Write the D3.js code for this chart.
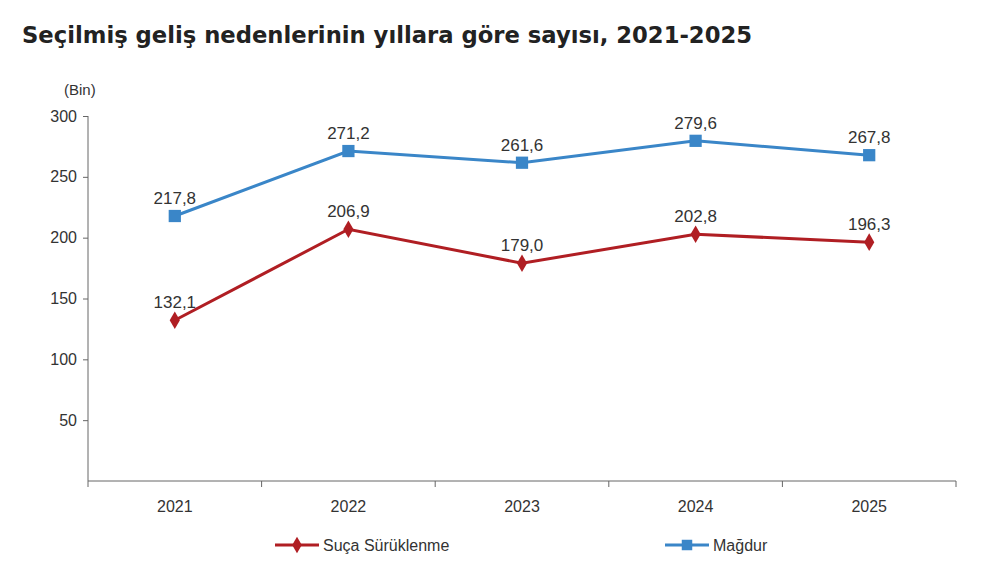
<!DOCTYPE html>
<html>
<head>
<meta charset="utf-8">
<script src="https://d3js.org/d3.v7.min.js"></script>
<style>
  body { margin: 0; background: #fff; font-family: "Liberation Sans", Arial, sans-serif; }
</style>
</head>
<body>
<svg id="chart" width="1000" height="568"></svg>
<script>
var years = ["2021", "2022", "2023", "2024", "2025"];
var sucaValues = [132.1, 206.9, 179.0, 202.8, 196.3];
var magdurValues = [217.8, 271.2, 261.6, 279.6, 267.8];
var yTicks = [50, 100, 150, 200, 250, 300];

var svg = d3.select("#chart");
var fmt = function (v) { return v.toFixed(1).replace(".", ","); };

var x = d3.scaleBand().domain(years).range([88, 956]);
var y = d3.scaleLinear().domain([0, 300]).range([481, 116]);

svg.append("text").attr("x", 22).attr("y", 43)
  .attr("font-size", 23).attr("font-weight", "bold").attr("fill", "#222")
  .attr("font-family", "'DejaVu Sans', sans-serif")
  .attr("textLength", 730).attr("lengthAdjust", "spacingAndGlyphs")
  .text("Seçilmiş geliş nedenlerinin yıllara göre sayısı, 2021-2025");

svg.append("text").attr("x", 64).attr("y", 95)
  .attr("font-size", 15).attr("fill", "#333").text("(Bin)");

// y axis
var yAxis = svg.append("g").attr("transform", "translate(88,0)")
  .call(d3.axisLeft(y).tickValues(yTicks).tickSize(5).tickFormat(d3.format("d")));
yAxis.selectAll("text").attr("font-size", 16).attr("fill", "#333").attr("dx", -3);
yAxis.select(".domain").attr("d", "M0," + y(0) + "V" + y(300)).attr("stroke", "#666");
yAxis.selectAll("line").attr("stroke", "#666");

// x axis
var xg = svg.append("g").attr("transform", "translate(0," + y(0) + ")");
xg.append("line").attr("x1", 88).attr("x2", 956).attr("stroke", "#666");
xg.selectAll("line.tk").data(years.concat(["end"])).join("line")
  .attr("class", "tk")
  .attr("x1", function (d, i) { return 88 + i * x.step(); })
  .attr("x2", function (d, i) { return 88 + i * x.step(); })
  .attr("y1", 0).attr("y2", 6).attr("stroke", "#666");
xg.selectAll("text").data(years).join("text")
  .attr("x", function (d) { return x(d) + x.bandwidth() / 2; })
  .attr("y", 31).attr("text-anchor", "middle")
  .attr("font-size", 16).attr("fill", "#333").text(function (d) { return d; });

var cx = function (d, i) { return x(years[i]) + x.bandwidth() / 2; };
var line = d3.line().x(cx).y(function (d) { return y(d); });

var series = [
  { name: "Suça Sürüklenme", values: sucaValues, color: "#b01e23", marker: "diamond" },
  { name: "Mağdur", values: magdurValues, color: "#3a86c8", marker: "square" }
];

series.forEach(function (s) {
  svg.append("path").datum(s.values).attr("d", line)
    .attr("fill", "none").attr("stroke", s.color).attr("stroke-width", 3);
  var sym = d3.symbol().type(s.marker === "square" ? d3.symbolSquare : d3.symbolDiamond)
    .size(s.marker === "square" ? 150 : 90);
  svg.selectAll(null).data(s.values).join("path")
    .attr("d", sym)
    .attr("transform", function (d, i) { return "translate(" + cx(d, i) + "," + y(d) + ")"; })
    .attr("fill", s.color);
  svg.selectAll(null).data(s.values).join("text")
    .attr("x", cx).attr("y", function (d) { return y(d) - 12; })
    .attr("text-anchor", "middle").attr("font-size", 17).attr("fill", "#333")
    .text(fmt);
});

// legend
var legend = [
  { s: series[0], x: 275 },
  { s: series[1], x: 665 }
];
legend.forEach(function (l) {
  var g = svg.append("g").attr("transform", "translate(" + l.x + ",545)");
  g.append("line").attr("x1", 0).attr("x2", 44).attr("stroke", l.s.color).attr("stroke-width", 3);
  g.append("path").attr("d", d3.symbol().type(l.s.marker === "square" ? d3.symbolSquare : d3.symbolDiamond)
      .size(l.s.marker === "square" ? 110 : 80))
    .attr("transform", "translate(22,0)").attr("fill", l.s.color);
  g.append("text").attr("x", 48).attr("y", 6).attr("font-size", 16).attr("fill", "#333").text(l.s.name);
});
</script>
</body>
</html>
